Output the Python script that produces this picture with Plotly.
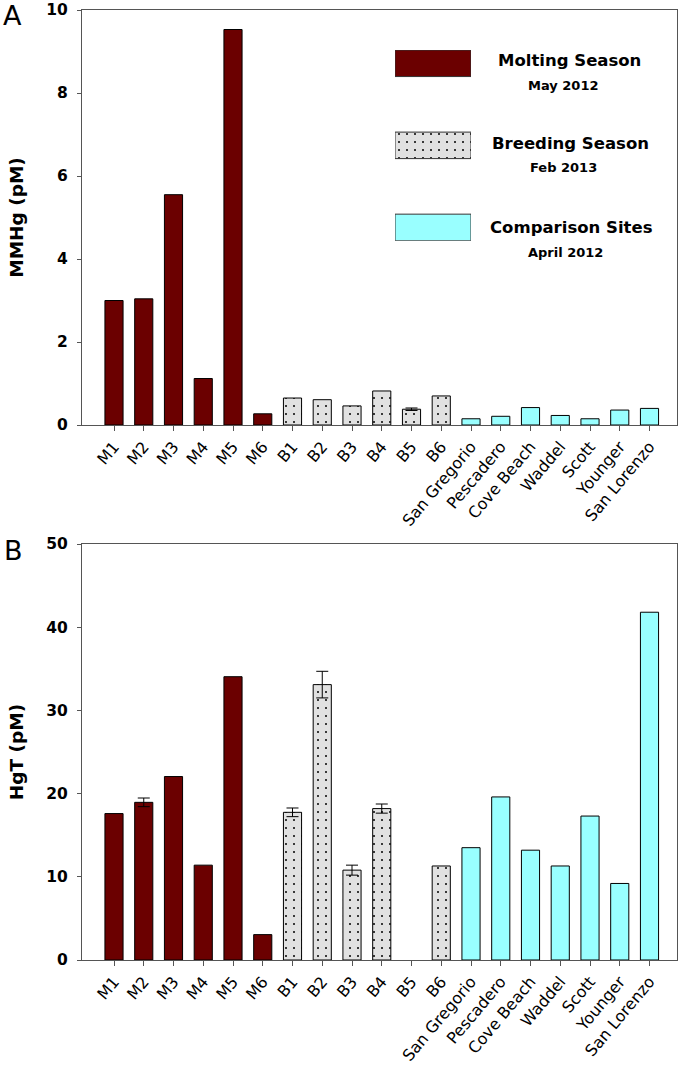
import plotly.graph_objects as go

# ---------------- data ----------------
molting_sites = ["M1", "M2", "M3", "M4", "M5", "M6"]
breeding_sites = ["B1", "B2", "B3", "B4", "B5", "B6"]
comparison_sites = ["San Gregorio", "Pescadero", "Cove Beach", "Waddel", "Scott", "Younger", "San Lorenzo"]
all_sites = molting_sites + breeding_sites + comparison_sites

# Panel A: MMHg (pM)
molting_mmhg = [3.0, 3.04, 5.55, 1.12, 9.53, 0.27]
molting_mmhg_err = [0, 0, 0, 0, 0, 0]
breeding_mmhg = [0.65, 0.61, 0.46, 0.82, 0.38, 0.70]
breeding_mmhg_err = [0, 0, 0, 0, 0.03, 0]
comparison_mmhg = [0.15, 0.21, 0.42, 0.23, 0.15, 0.36, 0.40]

# Panel B: HgT (pM)
molting_hgt = [17.6, 18.95, 22.05, 11.4, 34.05, 3.05]
molting_hgt_err = [0, 0.52, 0, 0, 0, 0]
breeding_hgt = [17.75, 33.1, 10.8, 18.2, None, 11.3]
breeding_hgt_err = [0.52, 1.6, 0.6, 0.55, 0, 0]
comparison_hgt = [13.5, 19.6, 13.2, 11.3, 17.3, 9.2, 41.8]

legend_labels = ["Molting Season", "Breeding Season", "Comparison Sites"]
legend_dates = ["May 2012", "Feb 2013", "April 2012"]

# ---------------- style ----------------
FONT = "DejaVu Sans"
C_MOLT = "#6B0000"
C_BREED = "#E1E1E1"
C_COMP = "#99FFFF"
AXC = "#555555"

W, H = 680, 1066
ML, MR, MT, MB = 82, 3, 10, 106
PW = W - ML - MR
PH = H - MT - MB


def py(y_px):
    return (H - MB - y_px) / PH


def px(x_px):
    return (x_px - ML) / PW


fig = go.Figure()

err_style = dict(type="data", color="black", thickness=1, width=6, visible=True)
line_style = dict(color="black", width=1)
breed_pattern = dict(shape=".", fillmode="replace", bgcolor=C_BREED, fgcolor="black", size=8, solidity=0.05)

for xa, ya, mv, me, bv, be, cv in [
    ("x", "y", molting_mmhg, molting_mmhg_err, breeding_mmhg, breeding_mmhg_err, comparison_mmhg),
    ("x2", "y2", molting_hgt, molting_hgt_err, breeding_hgt, breeding_hgt_err, comparison_hgt),
]:
    fig.add_trace(go.Bar(x=molting_sites, y=mv, xaxis=xa, yaxis=ya,
                         marker=dict(color=C_MOLT, line=line_style), showlegend=False))
    fig.add_trace(go.Bar(x=breeding_sites, y=bv, xaxis=xa, yaxis=ya,
                         marker=dict(color=C_BREED, line=line_style, pattern=breed_pattern),
                         showlegend=False))
    fig.add_trace(go.Bar(x=comparison_sites, y=cv, xaxis=xa, yaxis=ya,
                         marker=dict(color=C_COMP, line=line_style), showlegend=False))
    # error bars only where an error exists
    ex, ey, ee = [], [], []
    for s, v, e in zip(molting_sites + breeding_sites, mv + bv, me + be):
        if v is not None and e:
            ex.append(s)
            ey.append(v)
            ee.append(e)
    fig.add_trace(go.Scatter(x=ex, y=ey, xaxis=xa, yaxis=ya, mode="markers",
                             marker=dict(size=1, opacity=0),
                             error_y=dict(array=ee, **err_style), showlegend=False,
                             hoverinfo="skip"))

# Legend swatches drawn as bars on a hidden axis pair
sw_colors = [C_MOLT, C_BREED, C_COMP]
sw_patterns = [dict(shape=""), breed_pattern, dict(shape="")]
for i in range(3):
    fig.add_trace(go.Bar(x=[1], y=[i], orientation="h", xaxis="x3", yaxis="y3",
                         width=0.323,
                         marker=dict(color=sw_colors[i], line=dict(color="#333333", width=1),
                                     pattern=sw_patterns[i]),
                         showlegend=False, hoverinfo="skip"))

xcommon = dict(
    type="category", categoryorder="array", categoryarray=all_sites,
    range=[-1.0756, 18.9244],
    showline=True, linecolor=AXC, linewidth=1, mirror=True,
    ticks="outside", ticklen=5, tickcolor=AXC, tickangle=-50,
    tickfont=dict(family=FONT, size=16, color="black"),
    showgrid=False, zeroline=False, fixedrange=True,
)
ycommon = dict(
    showline=True, linecolor=AXC, linewidth=1, mirror=True,
    ticks="outside", ticklen=4, tickcolor=AXC,
    tickfont=dict(family=FONT, size=15.5, color="black", weight="bold"),
    ticklabelstandoff=6,
    showgrid=False, zeroline=False, fixedrange=True,
)

fig.update_layout(
    width=W, height=H,
    margin=dict(l=ML, r=MR, t=MT, b=MB, autoexpand=False),
    paper_bgcolor="white", plot_bgcolor="white",
    barmode="overlay", bargap=0.39,
    font=dict(family=FONT, color="black"),
    xaxis=dict(anchor="y", domain=[0, 1], **xcommon),
    yaxis=dict(anchor="x", domain=[py(425), 1], range=[0, 10], dtick=2,
               title=dict(text="<b>MMHg (pM)</b>", font=dict(family=FONT, size=18.5), standoff=17),
               **ycommon),
    xaxis2=dict(anchor="y2", domain=[0, 1], **xcommon),
    yaxis2=dict(anchor="x2", domain=[0, py(544)], range=[0, 50], dtick=10,
                title=dict(text="<b>HgT (pM)</b>", font=dict(family=FONT, size=18.5), standoff=17),
                **ycommon),
    xaxis3=dict(anchor="y3", domain=[px(395), px(471)], range=[0, 1], visible=False, fixedrange=True),
    yaxis3=dict(anchor="x3", domain=[py(240.7), py(50)], range=[2.162, -0.162], visible=False,
                type="linear", fixedrange=True),
)

ann = []
ann.append(dict(text="A", x=px(12), y=py(15), xref="paper", yref="paper", showarrow=False,
                font=dict(family=FONT, size=27), xanchor="center", yanchor="middle"))
ann.append(dict(text="B", x=px(13), y=py(550), xref="paper", yref="paper", showarrow=False,
                font=dict(family=FONT, size=27), xanchor="center", yanchor="middle"))
label_y = [60, 144, 227]
label_x = [569.5, 570, 571.5]
date_y = [86, 168, 252]
date_x = [563, 563, 565]
for i in range(3):
    ann.append(dict(text="<b>%s</b>" % legend_labels[i], x=px(label_x[i]), y=py(label_y[i]),
                    xref="paper", yref="paper", showarrow=False,
                    font=dict(family=FONT, size=16.5), xanchor="center", yanchor="middle"))
    ann.append(dict(text="<b>%s</b>" % legend_dates[i], x=px(date_x[i]), y=py(date_y[i]),
                    xref="paper", yref="paper", showarrow=False,
                    font=dict(family=FONT, size=13), xanchor="center", yanchor="middle"))
fig.update_layout(annotations=ann)

fig.write_html("out.html", config={"displayModeBar": False},
               post_script="document.body.style.margin='0';document.body.style.overflow='hidden';")
